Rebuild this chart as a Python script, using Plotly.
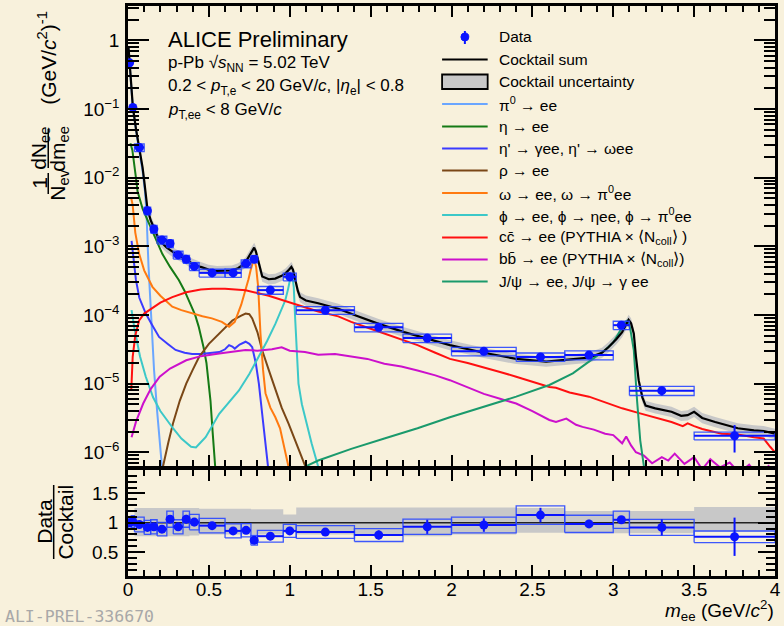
import plotly.graph_objects as go

# ---------------- data ----------------
bin_edges = [0, 0.02, 0.04, 0.1, 0.14, 0.18, 0.24, 0.28, 0.34, 0.38, 0.44, 0.6, 0.7,
             0.76, 0.8, 0.96, 1.04, 1.4, 1.7, 2.0, 2.4, 2.7, 3.0, 3.1, 3.5, 4.0]
data_yield = [0.47, 0.105, 0.0275, 3.3e-3, 1.78e-3, 1.24e-3, 1.1e-3, 7.5e-4, 6.5e-4, 5.1e-4,
              4.1e-4, 4.1e-4, 5.6e-4, 6.5e-4, 2.3e-4, 3.6e-4, 1.17e-4, 6.6e-5, 4.6e-5, 2.95e-5,
              2.45e-5, 2.6e-5, 7.1e-5, 7.9e-6, 1.74e-6]
data_ratio = [1.0, 1.02, 0.97, 0.92, 0.93, 0.89, 1.06, 0.93, 1.06, 1.01, 0.95, 0.86, 0.87,
              0.70, 0.77, 0.86, 0.84, 0.79, 0.93, 0.96, 1.13, 0.98, 1.05, 0.92, 0.76]
stat_rel = [0.03, 0.03, 0.03, 0.04, 0.04, 0.05, 0.06, 0.06, 0.07, 0.07, 0.06, 0.07, 0.06,
            0.07, 0.09, 0.08, 0.07, 0.10, 0.13, 0.12, 0.11, 0.07, 0.05, 0.15, 0.43]
syst_rel = [0.10, 0.10, 0.13, 0.13, 0.13, 0.13, 0.13, 0.13, 0.13, 0.13, 0.13, 0.14, 0.13,
            0.12, 0.13, 0.13, 0.13, 0.14, 0.14, 0.14, 0.14, 0.15, 0.14, 0.15, 0.13]
ratio_band_lo = [0.88, 0.88, 0.77, 0.77, 0.77, 0.77, 0.77, 0.77, 0.77, 0.78, 0.80, 0.80, 0.80,
                 0.80, 0.80, 0.83, 0.80, 0.78, 0.77, 0.80, 0.83, 0.82, 0.82, 0.82, 0.85]
ratio_band_hi = [1.12, 1.12, 1.25, 1.25, 1.25, 1.25, 1.25, 1.25, 1.25, 1.25, 1.24, 1.24, 1.24,
                 1.23, 1.23, 1.14, 1.26, 1.26, 1.26, 1.26, 1.25, 1.20, 1.20, 1.20, 1.27]
cocktail_unc_lo = 0.84
cocktail_unc_hi = 1.18

# curves: mass (GeV/c^2) and log10 of yield
sum_m = [0.003, 0.012, 0.03, 0.05, 0.07, 0.09, 0.1, 0.12, 0.14, 0.16, 0.192, 0.24, 0.294, 0.35,
         0.396, 0.45, 0.498, 0.55, 0.6, 0.641, 0.68, 0.705, 0.727, 0.745, 0.76, 0.772, 0.78,
         0.79, 0.805, 0.818, 0.83, 0.87, 0.91, 0.95, 0.975, 0.995, 1.01, 1.02, 1.033, 1.05,
         1.064, 1.1, 1.176, 1.3, 1.4, 1.55, 1.707, 1.85, 1.99, 2.2, 2.4, 2.585, 2.7, 2.77,
         2.85, 2.93, 2.97, 3.02, 3.055, 3.08, 3.095, 3.11, 3.127, 3.14, 3.157, 3.18, 3.2,
         3.26, 3.3, 3.36, 3.42, 3.46, 3.5, 3.55, 3.63, 3.7, 3.77, 3.87, 3.93, 4.0]
sum_log = [-0.1, -0.36, -0.97, -1.3, -1.56, -1.85, -2.04, -2.45, -2.62, -2.74, -2.91, -3.02,
           -3.11, -3.18, -3.25, -3.3, -3.34, -3.36, -3.36, -3.35, -3.32, -3.28, -3.23, -3.16,
           -3.09, -3.04, -3.02, -3.07, -3.2, -3.34, -3.44, -3.48, -3.47, -3.43, -3.39, -3.34,
           -3.30, -3.34, -3.49, -3.65, -3.74, -3.79, -3.83, -3.91, -4.0, -4.13, -4.25, -4.35,
           -4.44, -4.55, -4.64, -4.68, -4.66, -4.64, -4.62, -4.55, -4.47, -4.35, -4.25, -4.15,
           -4.07, -4.12, -4.27, -4.6, -4.95, -5.2, -5.32, -5.36, -5.38, -5.41, -5.47, -5.46,
           -5.41, -5.5, -5.56, -5.6, -5.65, -5.68, -5.69, -5.73]
pi0_m = [0.003, 0.012, 0.03, 0.06, 0.09, 0.105, 0.114, 0.127, 0.141, 0.161, 0.18, 0.2, 0.215]
pi0_log = [-0.12, -0.37, -0.99, -1.47, -1.9, -2.2, -2.5, -3.3, -4.0, -4.8, -5.4, -5.9, -6.35]
eta_m = [0.015, 0.027, 0.049, 0.059, 0.09, 0.131, 0.17, 0.212, 0.26, 0.314, 0.35, 0.386, 0.415,
         0.437, 0.467, 0.485, 0.498, 0.51, 0.523, 0.535, 0.545]
eta_log = [-1.5, -1.6, -2.0, -2.2, -2.45, -2.67, -2.9, -3.11, -3.3, -3.49, -3.65, -3.83, -4.0,
           -4.17, -4.47, -4.7, -4.95, -5.25, -5.7, -6.1, -6.4]
etap_m = [0.022, 0.035, 0.049, 0.07, 0.11, 0.15, 0.192, 0.25, 0.294, 0.35, 0.396, 0.45, 0.498,
          0.564, 0.6, 0.625, 0.645, 0.66, 0.69, 0.727, 0.75, 0.768, 0.79, 0.809, 0.83, 0.85, 0.87]
etap_log = [-2.92, -3.25, -3.49, -3.75, -3.98, -4.15, -4.32, -4.43, -4.51, -4.55, -4.57, -4.57,
            -4.56, -4.54, -4.5, -4.44, -4.46, -4.49, -4.43, -4.39, -4.42, -4.47, -4.7, -5.0,
            -5.45, -5.87, -6.3]
rho_m = [0.2, 0.216, 0.25, 0.278, 0.32, 0.36, 0.4, 0.44, 0.5, 0.564, 0.645, 0.7, 0.727, 0.75,
         0.768, 0.8, 0.829, 0.87, 0.911, 0.95, 0.992, 1.03, 1.074, 1.12]
rho_log = [-6.5, -6.21, -5.85, -5.58, -5.25, -5.0, -4.8, -4.61, -4.42, -4.27, -4.08, -4.01,
           -3.98, -3.99, -4.05, -4.25, -4.51, -4.8, -5.10, -5.35, -5.58, -5.82, -6.07, -6.35]
omega_m = [0.02, 0.029, 0.045, 0.069, 0.1, 0.151, 0.2, 0.274, 0.33, 0.396, 0.46, 0.519, 0.58,
           0.625, 0.66, 0.7, 0.727, 0.745, 0.758, 0.772, 0.782, 0.792, 0.805, 0.819, 0.835,
           0.85, 0.88, 0.911, 0.94, 0.962, 0.992, 1.01]
omega_log = [-2.3, -2.4, -2.8, -3.11, -3.35, -3.59, -3.72, -3.88, -3.93, -3.98, -4.02, -4.05,
             -4.1, -4.17, -4.1, -3.85, -3.64, -3.48, -3.35, -3.24, -3.2, -3.3, -3.6, -4.27,
             -4.8, -5.14, -5.35, -5.49, -5.65, -5.87, -6.21, -6.4]
phi_m = [0.022, 0.04, 0.074, 0.11, 0.155, 0.2, 0.278, 0.33, 0.39, 0.42, 0.44, 0.48, 0.564,
         0.62, 0.686, 0.75, 0.809, 0.86, 0.911, 0.945, 0.972, 0.99, 1.003, 1.015, 1.025, 1.033,
         1.045, 1.054, 1.075, 1.094, 1.135, 1.176, 1.2]
phi_log = [-3.93, -4.2, -4.6, -4.9, -5.2, -5.4, -5.65, -5.8, -5.92, -5.93, -5.88, -5.78, -5.44,
           -5.28, -5.1, -4.86, -4.61, -4.38, -4.13, -3.95, -3.79, -3.62, -3.47, -3.4, -3.6,
           -4.03, -4.6, -5.0, -5.3, -5.49, -5.87, -6.21, -6.4]
ccbar_m = [0.02, 0.029, 0.045, 0.069, 0.1, 0.151, 0.2, 0.274, 0.36, 0.45, 0.52, 0.6, 0.727,
           0.87, 1.013, 1.176, 1.3, 1.38, 1.5, 1.585, 1.7, 1.79, 1.9, 1.99, 2.1, 2.2, 2.3, 2.4,
           2.5, 2.605, 2.646, 2.73, 2.85, 2.95, 3.055, 3.16, 3.26, 3.36, 3.43, 3.46, 3.5, 3.55,
           3.67, 3.77, 3.87, 3.93, 3.97, 4.0]
ccbar_log = [-5.1, -4.61, -4.3, -4.08, -3.98, -3.9, -3.82, -3.74, -3.67, -3.63, -3.62, -3.62,
             -3.64, -3.72, -3.83, -3.95, -4.02, -4.1, -4.2, -4.27, -4.36, -4.44, -4.55, -4.64,
             -4.7, -4.76, -4.83, -4.90, -4.97, -5.05, -5.06, -5.13, -5.19, -5.27, -5.36, -5.43,
             -5.49, -5.56, -5.62, -5.58, -5.62, -5.66, -5.73, -5.74, -5.78, -5.8, -5.92, -6.0]
bbbar_m = [0.022, 0.05, 0.094, 0.14, 0.196, 0.26, 0.36, 0.45, 0.564, 0.65, 0.727, 0.8, 0.89,
           0.95, 1.0, 1.094, 1.176, 1.28, 1.38, 1.48, 1.585, 1.69, 1.79, 1.9, 1.99, 2.1, 2.2,
           2.3, 2.4, 2.5, 2.605, 2.646, 2.71, 2.77, 2.81, 2.88, 2.95, 3.0, 3.055, 3.08, 3.11,
           3.14, 3.19, 3.24, 3.3, 3.34, 3.38, 3.44, 3.5, 3.55, 3.6, 3.66, 3.72, 3.78, 3.84,
           3.9, 3.96, 4.0]
bbbar_log = [-5.78, -5.55, -5.29, -5.08, -4.90, -4.78, -4.66, -4.6, -4.56, -4.53, -4.51, -4.52,
             -4.50, -4.47, -4.52, -4.54, -4.58, -4.57, -4.60, -4.64, -4.71, -4.75, -4.81, -4.88,
             -4.95, -5.06, -5.15, -5.22, -5.29, -5.4, -5.53, -5.56, -5.51, -5.6, -5.63, -5.67,
             -5.73, -5.75, -5.87, -5.77, -5.9, -6.0, -6.05, -6.16, -6.07, -6.12, -6.02, -6.17,
             -6.07, -6.25, -6.1, -6.22, -6.15, -6.3, -6.18, -6.35, -6.2, -6.3]
jpsi_m = [1.05, 1.094, 1.176, 1.3, 1.38, 1.585, 1.79, 1.99, 2.2, 2.4, 2.605, 2.75, 2.85, 2.95,
          3.0, 3.03, 3.06, 3.075, 3.09, 3.105, 3.127, 3.147, 3.167, 3.19, 3.21]
jpsi_log = [-6.4, -6.21, -6.12, -6.02, -5.95, -5.80, -5.65, -5.49, -5.34, -5.19, -5.02, -4.85,
            -4.68, -4.51, -4.4, -4.27, -4.16, -4.10, -4.08, -4.2, -4.51, -5.24, -5.83, -6.21,
            -6.5]

y_tick_vals = [1e-6, 1e-5, 1e-4, 1e-3, 1e-2, 1e-1, 1]
y_tick_text = ["10<sup>−6</sup>", "10<sup>−5</sup>", "10<sup>−4</sup>", "10<sup>−3</sup>",
               "10<sup>−2</sup>", "10<sup>−1</sup>", "1"]
x_tick_vals = [0, 0.5, 1, 1.5, 2, 2.5, 3, 3.5, 4]
x_tick_text = ["0", "0.5", "1", "1.5", "2", "2.5", "3", "3.5", "4"]
r_tick_vals = [0.5, 1, 1.5]
r_tick_text = ["0.5", "1", "1.5"]

components = [
    ("π<sup>0</sup> → ee", pi0_m, pi0_log, "#6aa6ff"),
    ("η → ee", eta_m, eta_log, "#157a15"),
    ("η' → γee, η' → ωee", etap_m, etap_log, "#3b3bff"),
    ("ρ → ee", rho_m, rho_log, "#7a4716"),
    ("ω → ee, ω → π<sup>0</sup>ee", omega_m, omega_log, "#ff7a10"),
    ("ϕ → ee, ϕ → ηee, ϕ → π<sup>0</sup>ee", phi_m, phi_log, "#3cc8c8"),
    ("cc̄ → ee (PYTHIA × ⟨N<sub>coll</sub>⟩ )", ccbar_m, ccbar_log, "#ff1010"),
    ("bb̄ → ee (PYTHIA × ⟨N<sub>coll</sub>⟩)", bbbar_m, bbbar_log, "#cc10cc"),
    ("J/ψ → ee, J/ψ → γ ee", jpsi_m, jpsi_log, "#1a9a6c"),
]

# ---------------- layout helpers ----------------
W, H = 784, 626
ML, MR, MT, MB = 128, 3, 6, 50
PW, PH = W - ML - MR, H - MT - MB
FONT = "Liberation Sans, Arial, Helvetica, sans-serif"
BG = "#f8f1dc"
BLUE = "#0a14ff"
BOXC = "rgba(40,70,255,0.9)"


def px(x):
    return (x - ML) / PW


def py(y):
    return (H - MB - y) / PH


centers = [(bin_edges[i] + bin_edges[i + 1]) / 2 for i in range(len(bin_edges) - 1)]
halfw = [(bin_edges[i + 1] - bin_edges[i]) / 2 for i in range(len(bin_edges) - 1)]


def box_path(vals):
    xs, ys = [], []
    for i, v in enumerate(vals):
        lo, hi = v * (1 - syst_rel[i]), v * (1 + syst_rel[i])
        x0, x1 = bin_edges[i], bin_edges[i + 1]
        xs += [x0, x1, x1, x0, x0, None]
        ys += [lo, lo, hi, hi, lo, None]
    return xs, ys


fig = go.Figure()

# ---- upper panel ----
sum_y = [10 ** v for v in sum_log]
fig.add_trace(go.Scatter(x=sum_m, y=[v * cocktail_unc_lo for v in sum_y], mode="lines",
                         line=dict(width=0, color="#c8c8c8"), xaxis="x2", yaxis="y2",
                         showlegend=False, hoverinfo="skip"))
fig.add_trace(go.Scatter(x=sum_m, y=[v * cocktail_unc_hi for v in sum_y], mode="lines",
                         line=dict(width=0, color="#c8c8c8"), fill="tonexty",
                         fillcolor="#c8c8c8", xaxis="x2", yaxis="y2", showlegend=False,
                         hoverinfo="skip"))
for name, m, lg, col in components:
    fig.add_trace(go.Scatter(x=m, y=[10 ** v for v in lg], mode="lines", name=name,
                             line=dict(color=col, width=2), xaxis="x2", yaxis="y2",
                             showlegend=False))
fig.add_trace(go.Scatter(x=sum_m, y=sum_y, mode="lines", line=dict(color="black", width=2.2),
                         xaxis="x2", yaxis="y2", showlegend=False, name="Cocktail sum"))
bx, by = box_path(data_yield)
fig.add_trace(go.Scatter(x=bx, y=by, mode="lines", line=dict(color=BOXC, width=1.3),
                         xaxis="x2", yaxis="y2", showlegend=False, hoverinfo="skip"))
fig.add_trace(go.Scatter(x=centers, y=data_yield, mode="markers", name="Data",
                         marker=dict(color=BLUE, size=9, symbol="circle"),
                         error_y=dict(type="data", array=[v * s for v, s in zip(data_yield, stat_rel)],
                                      color=BLUE, thickness=2, width=0),
                         error_x=dict(type="data", array=halfw, color=BLUE, thickness=2, width=0),
                         xaxis="x2", yaxis="y2", showlegend=False))

# ---- lower (ratio) panel ----
step_x = bin_edges
fig.add_trace(go.Scatter(x=step_x, y=ratio_band_lo + [ratio_band_lo[-1]], mode="lines",
                         line=dict(width=0, shape="hv", color="#c8c8c8"), xaxis="x", yaxis="y",
                         showlegend=False, hoverinfo="skip"))
fig.add_trace(go.Scatter(x=step_x, y=ratio_band_hi + [ratio_band_hi[-1]], mode="lines",
                         line=dict(width=0, shape="hv", color="#c8c8c8"), fill="tonexty",
                         fillcolor="#c8c8c8", xaxis="x", yaxis="y", showlegend=False,
                         hoverinfo="skip"))
fig.add_trace(go.Scatter(x=[0, 4], y=[1, 1], mode="lines", line=dict(color="#222222", width=1.6),
                         xaxis="x", yaxis="y", showlegend=False, hoverinfo="skip"))
rx, ry = box_path(data_ratio)
fig.add_trace(go.Scatter(x=rx, y=ry, mode="lines", line=dict(color=BOXC, width=1.3),
                         xaxis="x", yaxis="y", showlegend=False, hoverinfo="skip"))
fig.add_trace(go.Scatter(x=centers, y=data_ratio, mode="markers",
                         marker=dict(color=BLUE, size=9),
                         error_y=dict(type="data", array=[v * s for v, s in zip(data_ratio, stat_rel)],
                                      color=BLUE, thickness=2, width=0),
                         error_x=dict(type="data", array=halfw, color=BLUE, thickness=2, width=0),
                         xaxis="x", yaxis="y", showlegend=False))

# ---- axes ----
y_minor = [m * 10 ** k for k in range(-7, 1) for m in range(2, 10)
           if 10 ** -6.2 < m * 10 ** k < 10 ** 0.5]
axis_common = dict(showline=True, linecolor="black", linewidth=2.5, ticks="inside",
                   tickcolor="black", tickwidth=2, mirror="allticks", showgrid=False,
                   zeroline=False, tickfont=dict(family=FONT, size=19, color="black"))

fig.update_layout(
    width=W, height=H, paper_bgcolor=BG, plot_bgcolor=BG,
    margin=dict(l=ML, r=MR, t=MT, b=MB), showlegend=False,
    font=dict(family=FONT, color="black"),
    xaxis=dict(axis_common, domain=[0, 1], range=[0, 4], anchor="y", tickmode="array",
               tickvals=x_tick_vals, ticktext=x_tick_text, ticklen=11, ticklabelstandoff=-6,
               minor=dict(dtick=0.1, ticklen=6, tickwidth=1.5, ticks="inside", tickcolor="black")),
    yaxis=dict(axis_common, domain=[0, py(470)], range=[0.09, 1.9], anchor="x",
               tickmode="array", tickvals=r_tick_vals, ticktext=r_tick_text, ticklen=17,
               ticklabelstandoff=3,
               minor=dict(dtick=0.1, ticklen=9, tickwidth=1.5, ticks="inside", tickcolor="black")),
    xaxis2=dict(axis_common, domain=[0, 1], range=[0, 4], anchor="y2", matches="x",
                showticklabels=False, tickmode="array", tickvals=x_tick_vals, ticklen=11,
                minor=dict(dtick=0.1, ticklen=6, tickwidth=1.5, ticks="inside", tickcolor="black")),
    yaxis2=dict(axis_common, domain=[py(466), 1], type="log", range=[-6.2, 0.5], anchor="x2",
                tickmode="array", tickvals=y_tick_vals, ticktext=y_tick_text, ticklen=21,
                ticklabelstandoff=2,
                minor=dict(tickvals=y_minor, ticklen=11, tickwidth=1.5, ticks="inside",
                           tickcolor="black")),
)

# ---- text ----
ann = []


def add_text(text, x, y, size, xanchor="left", yanchor="middle", angle=0, color="black",
             family=FONT):
    ann.append(dict(text=text, x=px(x), y=py(y), xref="paper", yref="paper", showarrow=False,
                    xanchor=xanchor, yanchor=yanchor, textangle=angle,
                    font=dict(size=size, color=color, family=family)))


add_text("ALICE Preliminary", 166, 40, 22)
add_text("p-Pb √<i>s</i><sub>NN</sub> = 5.02 TeV", 166, 64, 17)
add_text("0.2 < <i>p</i><sub>T,e</sub> < 20 GeV/<i>c</i>, |<i>η</i><sub>e</sub>| < 0.8", 166, 87, 17)
add_text("<i>p</i><sub>T,ee</sub> < 8 GeV/<i>c</i>", 166, 111, 17)

# y-axis title of upper panel (rotated fractions)
add_text("1", 39, 183, 21, "center", "middle", -90)
add_text("N<sub>ev</sub>", 58, 185, 21, "center", "middle", -90)
add_text("dN<sub>ee</sub>", 39, 148, 21, "center", "middle", -90)
add_text("dm<sub>ee</sub>", 58, 149, 21, "center", "middle", -90)
add_text("(GeV/<i>c</i><sup>2</sup>)<sup>-1</sup>", 46, 58, 21, "center", "middle", -90)
# ratio title
add_text("Data", 43, 521, 21, "center", "middle", -90)
add_text("Cocktail", 64, 522, 21, "center", "middle", -90)
# x title
add_text("<i>m</i><sub>ee</sub> (GeV/<i>c</i><sup>2</sup>)", 782, 610, 19, "right", "middle")
# watermark
add_text("ALI-PREL-336670", 2, 616, 16.5, "left", "middle", color="#a8a8a8",
         family="DejaVu Sans Mono, monospace")

# legend
leg_rows = [37, 59.5, 82, 104, 126.5, 148.5, 170.5, 193, 215, 237.5, 259.5, 281.5]
leg_labels = ["Data", "Cocktail sum", "Cocktail uncertainty"] + [c[0] for c in components]
for lab, yy in zip(leg_labels, leg_rows):
    add_text(lab, 500, yy, 15.5)

shapes = []
shapes.append(dict(type="line", xref="paper", yref="paper", x0=px(468), x1=px(468),
                   y0=py(31), y1=py(44), line=dict(color=BLUE, width=2)))
shapes.append(dict(type="circle", xref="paper", yref="paper", x0=px(464), x1=px(472),
                   y0=py(33), y1=py(41), fillcolor=BLUE, line=dict(color=BLUE, width=1)))
shapes.append(dict(type="line", xref="paper", yref="paper", x0=px(445), x1=px(491),
                   y0=py(leg_rows[1]), y1=py(leg_rows[1]), line=dict(color="black", width=2)))
shapes.append(dict(type="rect", xref="paper", yref="paper", x0=px(445), x1=px(491),
                   y0=py(89), y1=py(74.5), fillcolor="#c8c8c8",
                   line=dict(color="black", width=1.8)))
for (name, m, lg, col), yy in zip(components, leg_rows[3:]):
    shapes.append(dict(type="line", xref="paper", yref="paper", x0=px(445), x1=px(491),
                       y0=py(yy), y1=py(yy), line=dict(color=col, width=2)))
# fraction bars of the axis titles
for (yy0, yy1) in [(173, 194), (129, 168)]:
    shapes.append(dict(type="line", xref="paper", yref="paper", x0=px(47.5), x1=px(47.5),
                       y0=py(yy0), y1=py(yy1), line=dict(color="black", width=1.5)))
shapes.append(dict(type="line", xref="paper", yref="paper", x0=px(53), x1=px(53),
                   y0=py(485), y1=py(559), line=dict(color="black", width=1.5)))

fig.update_layout(annotations=ann, shapes=shapes)
fig.write_html("out.html", config={"displayModeBar": False},
               post_script="document.body.style.margin='0';document.body.style.padding='0';"
                           "document.body.style.overflow='hidden';")
